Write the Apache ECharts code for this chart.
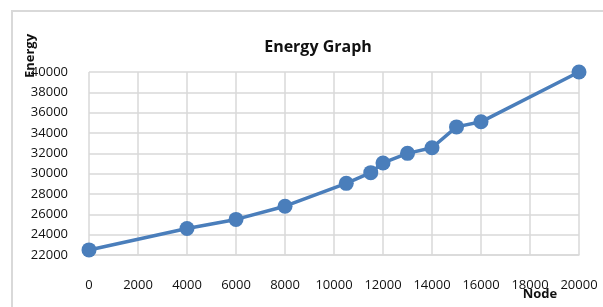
<!DOCTYPE html>
<html lang="en">
<head>
  <meta charset="UTF-8">
  <title>Energy Graph</title>
  <script src="https://cdn.jsdelivr.net/npm/echarts@6/dist/echarts.min.js"></script>
  <style>
    html, body { margin: 0; padding: 0; background: #fff; }
  </style>
</head>
<body>
<div id="main" style="width: 603px;height:307px;"></div>
<script type="text/javascript">
  // data
  var nodes = [0, 4000, 6000, 8000, 10500, 11500, 12000, 13000, 14000, 15000, 16000, 20000];
  var energy = [22500, 24600, 25500, 26800, 29050, 30100, 31050, 32000, 32550, 34600, 35100, 40000];

  var points = [];
  for (let i = 0; i < nodes.length; i++) {
    points.push([nodes[i], energy[i]]);
  }

  var myChart = echarts.init(document.getElementById('main'));
  var font = 'Open Sans, Liberation Sans, sans-serif';
  var plain = function (v) { return String(v); };

  option = {
    animation: false,
    graphic: [
      {
        type: 'rect',
        shape: { x: 12, y: 11, width: 600, height: 310 },
        style: { fill: 'none', stroke: '#d9d9d9', lineWidth: 2 }
      },
      // axis titles, placed where the picture has them
      {
        type: 'text',
        x: 30, y: 56,
        rotation: Math.PI / 2,
        z: 10,
        style: {
          text: 'Energy', fontFamily: font, fontSize: 13, fontWeight: 'bold',
          fill: '#111', align: 'center', verticalAlign: 'middle'
        }
      },
      {
        type: 'text',
        x: 540, y: 294,
        z: 10,
        style: {
          text: 'Node', fontFamily: font, fontSize: 13, fontWeight: 'bold',
          fill: '#111', align: 'center', verticalAlign: 'middle'
        }
      }
    ],
    title: {
      text: 'Energy Graph',
      left: 313,
      top: 34,
      textAlign: 'center',
      textStyle: { fontFamily: font, fontSize: 16, fontWeight: 'bold', color: '#111' }
    },
    grid: { left: 89, right: 24, top: 72, bottom: 52 },
    xAxis: {
      type: 'value',
      min: 0, max: 20000, interval: 2000,
      axisLine: { lineStyle: { color: '#d9d9d9', width: 1.5 } },
      axisTick: { show: false },
      axisLabel: { margin: 24, fontFamily: font, fontSize: 13, color: '#111', formatter: plain },
      splitLine: { lineStyle: { color: '#d9d9d9', width: 1.5 } }
    },
    yAxis: {
      type: 'value',
      min: 22000, max: 40000, interval: 2000,
      axisLine: { show: false },
      axisTick: { show: false },
      axisLabel: { margin: 21, fontFamily: font, fontSize: 13, color: '#111', formatter: plain },
      splitLine: { lineStyle: { color: '#d9d9d9', width: 1.5 } }
    },
    series: [{
      type: 'line',
      data: points,
      symbol: 'circle',
      symbolSize: 15,
      itemStyle: { color: '#4a7ebb' },
      lineStyle: { color: '#4a7ebb', width: 3.5 }
    }]
  };
  myChart.setOption(option);
</script>
</body>
</html>
